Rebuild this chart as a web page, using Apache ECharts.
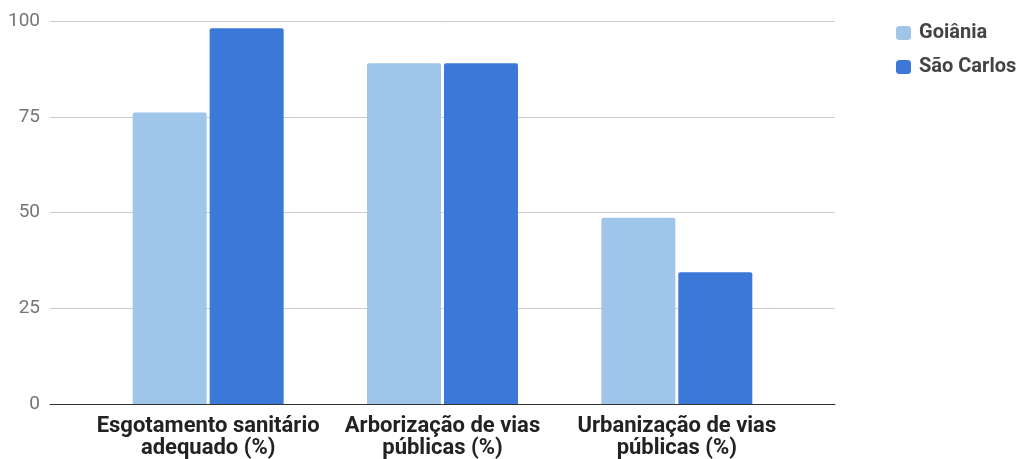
<!DOCTYPE html>
<html>
<head>
<meta charset="utf-8">
<script src="https://cdn.jsdelivr.net/npm/echarts@6/dist/echarts.min.js"></script>
<style>
  html, body { margin: 0; padding: 0; background: #fff; }
  #chart { width: 1022px; height: 459px; }
</style>
</head>
<body>
<div id="chart"></div>
<script>
  // dados
  var categories = ['Esgotamento sanitário\nadequado (%)', 'Arborização de vias\npúblicas (%)', 'Urbanização de vias\npúblicas (%)']
  var goiania = [76.1, 89.0, 48.6]
  var saoCarlos = [98.1, 89.0, 34.4]
  var yTicks = [0, 25, 50, 75, 100]

  var chart = echarts.init(document.getElementById('chart'))
  var font = 'Roboto, "Noto Sans", sans-serif'

  var options = {
    animation: false,
    color: ['#9fc5e8', '#3c78d8'],
    textStyle: { fontFamily: font },
    legend: {
      orient: 'vertical',
      left: 891,
      top: 18,
      itemWidth: 15,
      itemHeight: 14,
      itemGap: 14,
      icon: 'roundRect',
      textStyle: { fontFamily: font, fontSize: 20, fontWeight: 'bold', color: '#444', padding: [0, 0, 0, 3] },
      data: ['Goiânia', 'São Carlos']
    },
    grid: [
      // grade das linhas (mais larga)
      { left: 50, right: 187, top: 21, bottom: 55 },
      // grade das barras
      { left: 91, right: 228, top: 21, bottom: 55 }
    ],
    xAxis: [
      {
        gridIndex: 0,
        type: 'category',
        data: categories,
        axisLine: { show: true, lineStyle: { color: '#333', width: 1 } },
        axisTick: { show: false },
        axisLabel: { show: false }
      },
      {
        gridIndex: 1,
        type: 'category',
        data: categories,
        axisLine: { show: false },
        axisTick: { show: false },
        axisLabel: {
          interval: 0,
          margin: 11,
          fontFamily: font,
          fontSize: 22,
          fontWeight: 'bold',
          color: '#222',
          lineHeight: 22
        }
      }
    ],
    yAxis: [
      {
        gridIndex: 0,
        type: 'value',
        min: yTicks[0],
        max: yTicks[yTicks.length - 1],
        interval: 25,
        axisLine: { show: false },
        axisTick: { show: false },
        axisLabel: { margin: 10, fontFamily: font, fontSize: 19, color: '#757575' },
        splitLine: { show: true, lineStyle: { color: '#cccccc' } }
      },
      {
        gridIndex: 1,
        type: 'value',
        min: yTicks[0],
        max: yTicks[yTicks.length - 1],
        interval: 25,
        show: false,
        splitLine: { show: false }
      }
    ],
    series: [
      {
        name: 'Goiânia',
        type: 'bar',
        xAxisIndex: 1,
        yAxisIndex: 1,
        barWidth: 74,
        barGap: '4%',
        itemStyle: { borderRadius: [2, 2, 0, 0] },
        data: goiania
      },
      {
        name: 'São Carlos',
        type: 'bar',
        xAxisIndex: 1,
        yAxisIndex: 1,
        barWidth: 74,
        barGap: '4%',
        itemStyle: { borderRadius: [2, 2, 0, 0] },
        data: saoCarlos
      }
    ]
  }

  chart.setOption(options, true)
</script>
</body>
</html>
